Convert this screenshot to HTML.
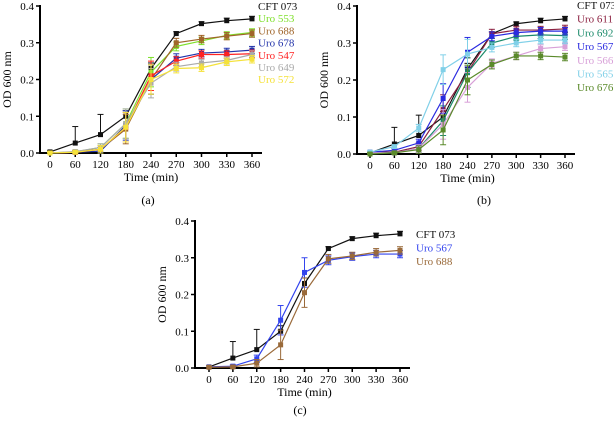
<!DOCTYPE html>
<html><head><meta charset="utf-8"><style>
body{margin:0;background:#fff;width:614px;height:421px;overflow:hidden}
svg text{font-family:"Liberation Serif",serif}
</style></head><body>
<svg id="chart" width="614" height="421" xmlns="http://www.w3.org/2000/svg"></svg>
<script>
const categories=["0","60","120","180","240","270","300","330","360"];
const yTicks=[0,0.1,0.2,0.3,0.4];
const yTickLabels=["0.0","0.1","0.2","0.3","0.4"];
const cft=[0.003,0.027,0.05,0.1,0.23,0.325,0.352,0.36,0.365];
const cftErr=[0.003,0.045,0.055,0.015,0.015,0.005,0.005,0.007,0.007];
const otherErr=[0.003,0.004,0.01,0.04,0.04,0.012,0.01,0.01,0.01];
const a553=[0,0.003,0.015,0.08,0.22,0.29,0.305,0.32,0.328];
const a688=[0,0.002,0.01,0.065,0.2,0.3,0.31,0.318,0.325];
const a678=[0,0.002,0.005,0.075,0.2,0.258,0.272,0.275,0.28];
const a547=[0,0.002,0.01,0.07,0.21,0.25,0.268,0.268,0.27];
const a649=[0,0.004,0.015,0.08,0.19,0.235,0.245,0.252,0.268];
const a572=[0,0.002,0.01,0.07,0.2,0.23,0.232,0.248,0.255];
const b611=[0.005,0.005,0.02,0.12,0.22,0.325,0.335,0.335,0.338];
const b692=[0.003,0.003,0.015,0.09,0.22,0.3,0.318,0.322,0.32];
const b567=[0.005,0.01,0.03,0.15,0.275,0.318,0.328,0.332,0.332];
const b566=[0.003,0.003,0.015,0.08,0.18,0.245,0.265,0.285,0.29];
const b565=[0.005,0.02,0.07,0.228,0.27,0.288,0.3,0.308,0.308];
const b676=[0,0.003,0.012,0.065,0.2,0.242,0.265,0.265,0.262];
const c567=[0.003,0.005,0.025,0.13,0.26,0.293,0.303,0.31,0.31];
const c688=[0.002,0.003,0.013,0.063,0.205,0.297,0.305,0.315,0.32];

const NS="http://www.w3.org/2000/svg";
const svg=document.getElementById('chart');
function mk(tag,attrs,parent,txt){const e=document.createElementNS(NS,tag);for(const k in attrs)e.setAttribute(k,attrs[k]);if(txt!==undefined)e.textContent=txt;(parent||svg).appendChild(e);return e;}

function panel(p){
  const g=mk('g',{});
  
  
  const xs=i=>p.x0+(p.x1-p.x0)*i/(categories.length-1);
  const ys=v=>p.y0-(p.y0-p.yTop)*v/0.4;
  const ax=mk('line',{x1:p.ax,y1:p.yTop-1,x2:p.ax,y2:p.y0+1,stroke:'#000','stroke-width':2},g);
  
  const bx=mk('line',{x1:p.ax,y1:p.y0,x2:p.x1+10,y2:p.y0,stroke:'#000','stroke-width':2},g);
  
  yTicks.forEach((v,i)=>{
    mk('line',{x1:p.ax-4,y1:ys(v),x2:p.ax,y2:ys(v),stroke:'#000','stroke-width':1.5},g);
    const t=mk('text',{x:p.ax-6,y:ys(v)+4,'text-anchor':'end','font-size':11},g,yTickLabels[i]);
    
  });
  categories.forEach((c,i)=>{
    mk('line',{x1:xs(i),y1:p.y0,x2:xs(i),y2:p.y0+4,stroke:'#000','stroke-width':1.5},g);
    const t=mk('text',{x:xs(i),y:p.y0+15,'text-anchor':'middle','font-size':11},g,c);
    
  });
  const xt=mk('text',{x:(p.x0+p.x1)/2,y:p.y0+28,'text-anchor':'middle','font-size':12},g,'Time (min)');
  
  const yt=mk('text',{x:0,y:0,'text-anchor':'middle','font-size':12,transform:`translate(${p.ax-29},${(p.y0+p.yTop)/2}) rotate(-90)`},g,'OD 600 nm');
  
  const cap=mk('text',{x:p.capX,y:p.capY,'text-anchor':'middle','font-size':12},g,p.cap);
  
  p.series.forEach((s,si)=>{
    const sg=mk('g',{},g);
    
    
    mk('polyline',{points:s.v.map((v,i)=>xs(i)+','+ys(v)).join(' '),fill:'none',stroke:s.c,'stroke-width':1.2},sg);
    s.v.forEach((v,i)=>{
      const e=s.e?s.e[i]:otherErr[i];
      const lo=s.e?v:Math.max(0,v-e);
      mk('line',{x1:xs(i),y1:ys(lo),x2:xs(i),y2:ys(v+e),stroke:s.c,'stroke-width':1},sg);
      mk('line',{x1:xs(i)-3,y1:ys(v+e),x2:xs(i)+3,y2:ys(v+e),stroke:s.c,'stroke-width':1},sg);
      if(!s.e) mk('line',{x1:xs(i)-3,y1:ys(lo),x2:xs(i)+3,y2:ys(lo),stroke:s.c,'stroke-width':1},sg);
      const m=mk('rect',{x:xs(i)-2.5,y:ys(v)-2.5,width:5,height:5,fill:s.c},sg);
      
    });
    const lt=mk('text',{x:p.legX,y:p.legY+si*p.legDy,'font-size':11,fill:s.c},g,s.label);
    
  });
}
panel({name:'panel-a',ax:40,x0:50,x1:252,y0:153,yTop:6,cap:'(a)',capX:148,capY:204,legX:258,legY:10,legDy:12.2,
 series:[{label:'Uro 572',v:a572,c:'#f5e23a'},{label:'Uro 649',v:a649,c:'#aaaaaa'},{label:'Uro 547',v:a547,c:'#f22'},{label:'Uro 678',v:a678,c:'#2233aa'},{label:'Uro 688',v:a688,c:'#a0652a'},{label:'Uro 553',v:a553,c:'#7ee02a'},{label:'CFT 073',v:cft,e:cftErr,c:'#111'}].reverse()});
panel({name:'panel-b',ax:357,x0:370,x1:565,y0:154,yTop:6,cap:'(b)',capX:484,capY:204,legX:577,legY:9,legDy:13.7,
 series:[{label:'CFT 073',v:cft,e:cftErr,c:'#111'},{label:'Uro 611',v:b611,c:'#8b2040'},{label:'Uro 692',v:b692,c:'#1a8a6a'},{label:'Uro 567',v:b567,c:'#2a2ae0'},{label:'Uro 566',v:b566,c:'#d8a0d8'},{label:'Uro 565',v:b565,c:'#80d0e8'},{label:'Uro 676',v:b676,c:'#5a8a2a'}]});
panel({name:'panel-c',ax:195,x0:209,x1:400,y0:368,yTop:221,cap:'(c)',capX:300,capY:414,legX:416,legY:238,legDy:13.5,
 series:[{label:'CFT 073',v:cft,e:cftErr,c:'#111'},{label:'Uro 567',v:c567,c:'#3344ee'},{label:'Uro 688',v:c688,c:'#9a6a3a'}]});
</script>
</body></html>
